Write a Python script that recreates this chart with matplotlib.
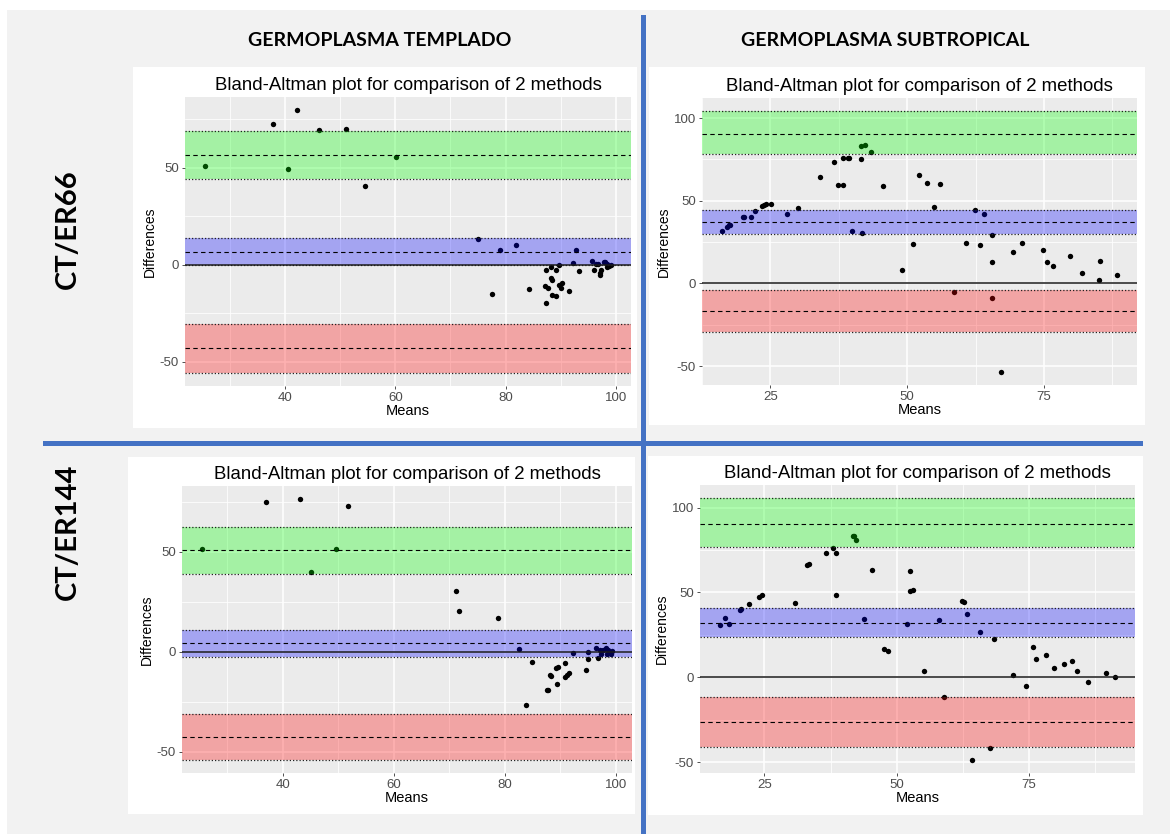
import numpy as np
import matplotlib
matplotlib.use("Agg")
import matplotlib.pyplot as plt
from matplotlib.ticker import MultipleLocator, FuncFormatter
from matplotlib.patches import Rectangle
from matplotlib.lines import Line2D

plt.rcParams['font.family'] = ['Liberation Sans', 'DejaVu Sans']

W, H = 1170, 834

# ---- data: CT/ER66 x templado
t66_mean = [25.5, 37.8, 42.2, 40.5, 46.2, 51.1, 54.5, 60.2, 75.0, 77.5, 79.0, 81.9, 84.2, 87.3, 87.4,
            87.2, 87.8, 88.3, 88.2, 88.4, 88.5, 89.1, 89.2, 89.8, 89.7, 90.3, 90.0, 91.6, 92.3, 92.8,
            93.4, 95.7, 96.0, 96.4, 96.7, 97.2, 97.2, 97.4, 97.8, 98.1, 98.4, 98.8, 99.1, 98.4]
t66_diff = [50.8, 72.4, 79.6, 49.1, 69.5, 70.0, 40.8, 55.4, 13.5, -15.1, 7.7, 10.1, -12.7, -2.6, -19.7,
            -10.8, -12.0, -0.9, -6.7, -7.7, -15.4, -16.1, -2.6, -0.3, -10.3, -9.6, -12.0, -13.7, 1.0, 7.5,
            -3.1, 1.9, -2.6, 0.2, 0.2, -4.0, -5.1, -2.9, 1.2, 1.5, -1.2, -0.5, -0.3, 0.5]
t66_upper = [44.3, 56.6, 69.1]   # lower ci, limit, upper ci
t66_bias = [-0.3, 6.5, 13.9]
t66_lower = [-55.6, -42.9, -30.7]

# ---- CT/ER66 x subtropical
s66_mean = [16.1, 17.0, 17.4, 17.6, 19.95, 20.2, 21.4, 22.1, 23.5, 23.8, 24.2, 25.1, 28.1, 30.1, 34.1,
            36.6, 37.3, 38.2, 38.3, 39.1, 39.4, 40.0, 41.5, 41.6, 41.7, 42.2, 43.3, 45.5, 49.1, 51.0,
            52.1, 53.6, 54.9, 56.0, 58.5, 60.7, 62.4, 63.3, 64.0, 65.5, 65.5, 65.5, 67.1, 69.4, 70.9,
            74.8, 75.6, 76.6, 79.7, 81.9, 85.0, 85.3, 88.4]
s66_diff = [31.8, 33.9, 35.3, 35.3, 40.0, 40.0, 40.0, 43.8, 47.1, 47.5, 48.3, 48.3, 42.2, 45.8, 64.3,
            73.2, 59.6, 75.9, 59.6, 75.9, 75.9, 32.0, 83.0, 75.1, 30.6, 83.6, 79.5, 59.0, 7.9, 23.7,
            65.9, 60.9, 46.5, 60.2, -4.9, 24.5, 44.6, 23.1, 42.2, 29.2, 13.0, -8.9, -53.5, 18.9, 24.5,
            20.5, 13.0, 10.8, 16.8, 6.5, 2.2, 13.8, 5.3]
s66_upper = [78.3, 90.5, 104.3]
s66_bias = [29.8, 36.9, 44.6]
s66_lower = [-29.6, -16.8, -3.7]

# ---- CT/ER144 x templado
t144_mean = [25.5, 37.0, 43.1, 45.1, 49.6, 51.7, 71.1, 71.8, 78.7, 82.5, 83.7, 84.8, 87.6, 87.8, 88.1,
             88.3, 89.2, 89.6, 89.3, 90.9, 90.8, 91.2, 91.6, 92.3, 94.6, 94.9, 95.0, 96.4, 96.8, 97.1,
             97.3, 97.7, 98.2, 98.4, 98.5, 98.9, 99.1, 99.2]
t144_diff = [51.3, 74.7, 76.4, 39.9, 51.3, 72.9, 30.5, 20.6, 16.8, 1.5, -26.6, -5.0, -18.9, -19.3, -11.7,
             -12.2, -8.2, -7.5, -16.1, -5.4, -12.6, -11.6, -10.7, -0.5, -8.9, -0.2, -3.5, 2.0, -3.0, 0.8,
             -0.9, 0.8, 1.7, -0.9, 0.8, -0.2, -1.2, 0.3]
t144_upper = [38.7, 50.9, 62.6]
t144_bias = [-2.8, 4.2, 11.1]
t144_lower = [-54.1, -42.5, -31.0]

# ---- CT/ER144 x subtropical
s144_mean = [16.55, 17.6, 18.25, 20.4, 20.6, 22.1, 24.05, 24.6, 30.7, 33.1, 33.4, 36.7, 38.0, 38.5, 38.6,
             41.7, 42.0, 42.3, 43.9, 45.3, 47.6, 48.3, 51.9, 52.6, 52.6, 53.1, 55.1, 58.0, 58.9, 62.4,
             62.7, 63.3, 64.3, 65.7, 67.6, 68.4, 72.0, 74.5, 75.8, 76.4, 78.2, 79.7, 81.7, 83.1, 84.0,
             86.1, 89.5, 91.3]
s144_diff = [30.6, 34.7, 31.4, 39.5, 40.5, 43.4, 47.4, 48.5, 44.0, 66.3, 66.9, 73.0, 76.0, 73.0, 48.7,
             83.1, 83.5, 81.1, 34.1, 63.2, 16.4, 15.4, 31.4, 62.6, 51.1, 51.7, 3.7, 33.6, -11.6, 45.2,
             44.2, 37.1, -48.7, 26.6, -41.8, 22.7, 1.6, -5.3, 18.0, 10.9, 13.2, 5.7, 8.1, 9.3, 3.7,
             -3.0, 2.8, 0.4]
s144_upper = [76.6, 90.4, 105.6]
s144_bias = [23.9, 32.0, 40.7]
s144_lower = [-41.0, -26.6, -11.6]

col_titles = ['GERMOPLASMA TEMPLADO', 'GERMOPLASMA SUBTROPICAL']
row_titles = ['CT/ER66', 'CT/ER144']
panel_title = 'Bland-Altman plot for comparison of 2 methods'


def fx(x):
    return x / W


def fy(y):
    return 1 - y / H


fig = plt.figure(figsize=(W / 100, H / 100), dpi=100)
fig.patch.set_facecolor('white')

# light gray page + white boxes behind each plot
fig.patches.append(Rectangle((fx(7), 0), fx(W - 7), fy(10), transform=fig.transFigure,
                             facecolor='#f2f2f2', edgecolor='none', zorder=-3))
for (x0, y0, x1, y1) in [(133, 67, 637, 428), (649, 67, 1145, 425),
                         (128, 457, 635, 814), (648, 456, 1143, 815)]:
    fig.patches.append(Rectangle((fx(x0), fy(y1)), fx(x1 - x0), (y1 - y0) / H,
                                 transform=fig.transFigure, facecolor='white',
                                 edgecolor='none', zorder=-2))


def ba_panel(box, means, diffs, upper, bias, lower, xmaj, ymaj):
    x0, y0, x1, y1 = box
    ax = fig.add_axes([fx(x0), fy(y1), fx(x1 - x0), (y1 - y0) / H])
    ax.set_zorder(1)
    ax.set_facecolor('#ebebeb')
    for s in ax.spines.values():
        s.set_visible(False)

    ax.scatter(means, diffs, s=15, color='black', linewidths=0, zorder=2)

    # bands drawn over the points (as in the original)
    for band, col in [(upper, '#00ff00'), (bias, '#0000ff'), (lower, '#ff0000')]:
        ax.axhspan(band[0], band[2], color=col, alpha=0.3, lw=0, zorder=3)
        ax.axhline(band[1], color='black', lw=0.8, ls=(0, (4, 3)), zorder=4)
        ax.axhline(band[0], color='#222222', lw=0.9, ls=(0, (1, 1.6)), zorder=4)
        ax.axhline(band[2], color='#222222', lw=0.9, ls=(0, (1, 1.6)), zorder=4)
    ax.axhline(0, color='#1a1a1a', lw=1.1, zorder=4)

    # ggplot style 5% expansion
    xl = [min(means), max(means)]
    yl = [min(min(diffs), lower[0]), max(max(diffs), upper[2])]
    dx = (xl[1] - xl[0]) * 0.05
    dy = (yl[1] - yl[0]) * 0.05
    ax.set_xlim(xl[0] - dx, xl[1] + dx)
    ax.set_ylim(yl[0] - dy, yl[1] + dy)

    ax.xaxis.set_major_locator(MultipleLocator(xmaj))
    ax.xaxis.set_minor_locator(MultipleLocator(xmaj / 2))
    ax.yaxis.set_major_locator(MultipleLocator(ymaj))
    ax.yaxis.set_minor_locator(MultipleLocator(ymaj / 2))
    ax.grid(which='major', color='white', lw=1.1, zorder=0)
    ax.grid(which='minor', color='white', lw=0.55, zorder=0)
    ax.set_axisbelow(True)
    ax.tick_params(which='major', length=2.5, width=0.6, color='#333333',
                   labelsize=9.5, labelcolor='#4d4d4d', pad=2)
    ax.tick_params(which='minor', length=0)
    ax.xaxis.set_major_formatter(FuncFormatter(lambda v, p: '%g' % v))
    ax.yaxis.set_major_formatter(FuncFormatter(lambda v, p: '%g' % v))

    ax.set_xlabel('Means', fontsize=10.5, labelpad=0)
    ax.set_ylabel('Differences', fontsize=10, labelpad=2)
    ax.set_title(panel_title, fontsize=13.4, pad=5)
    return ax


ba_panel((185, 97, 631, 386), t66_mean, t66_diff, t66_upper, t66_bias, t66_lower, 20, 50)
ba_panel((702, 98, 1137, 385), s66_mean, s66_diff, s66_upper, s66_bias, s66_lower, 25, 50)
ba_panel((182, 486, 632, 773), t144_mean, t144_diff, t144_upper, t144_bias, t144_lower, 20, 50)
ba_panel((700, 485, 1135, 773), s144_mean, s144_diff, s144_upper, s144_bias, s144_lower, 25, 50)

# blue separators
fig.lines.append(Line2D([fx(643), fx(643)], [fy(17), fy(834)], transform=fig.transFigure,
                        color='#4472c4', lw=3.6, zorder=5))
fig.lines.append(Line2D([fx(45), fx(1140)], [fy(443), fy(443)], transform=fig.transFigure,
                        color='#4472c4', lw=3.6, zorder=5))

# headings
hfont = ['Lato', 'DejaVu Sans']
fig.text(fx(380), fy(41), col_titles[0], ha='center', va='center', fontsize=14,
         fontweight='bold', family=hfont)
fig.text(fx(885), fy(41), col_titles[1], ha='center', va='center', fontsize=14,
         fontweight='bold', family=hfont)
fig.text(fx(68), fy(229), row_titles[0], ha='center', va='center', fontsize=21,
         fontweight='bold', rotation=90, family=hfont)
fig.text(fx(68), fy(532), row_titles[1], ha='center', va='center', fontsize=21,
         fontweight='bold', rotation=90, family=hfont)

fig.savefig('out.png', dpi=100, facecolor=fig.get_facecolor())
